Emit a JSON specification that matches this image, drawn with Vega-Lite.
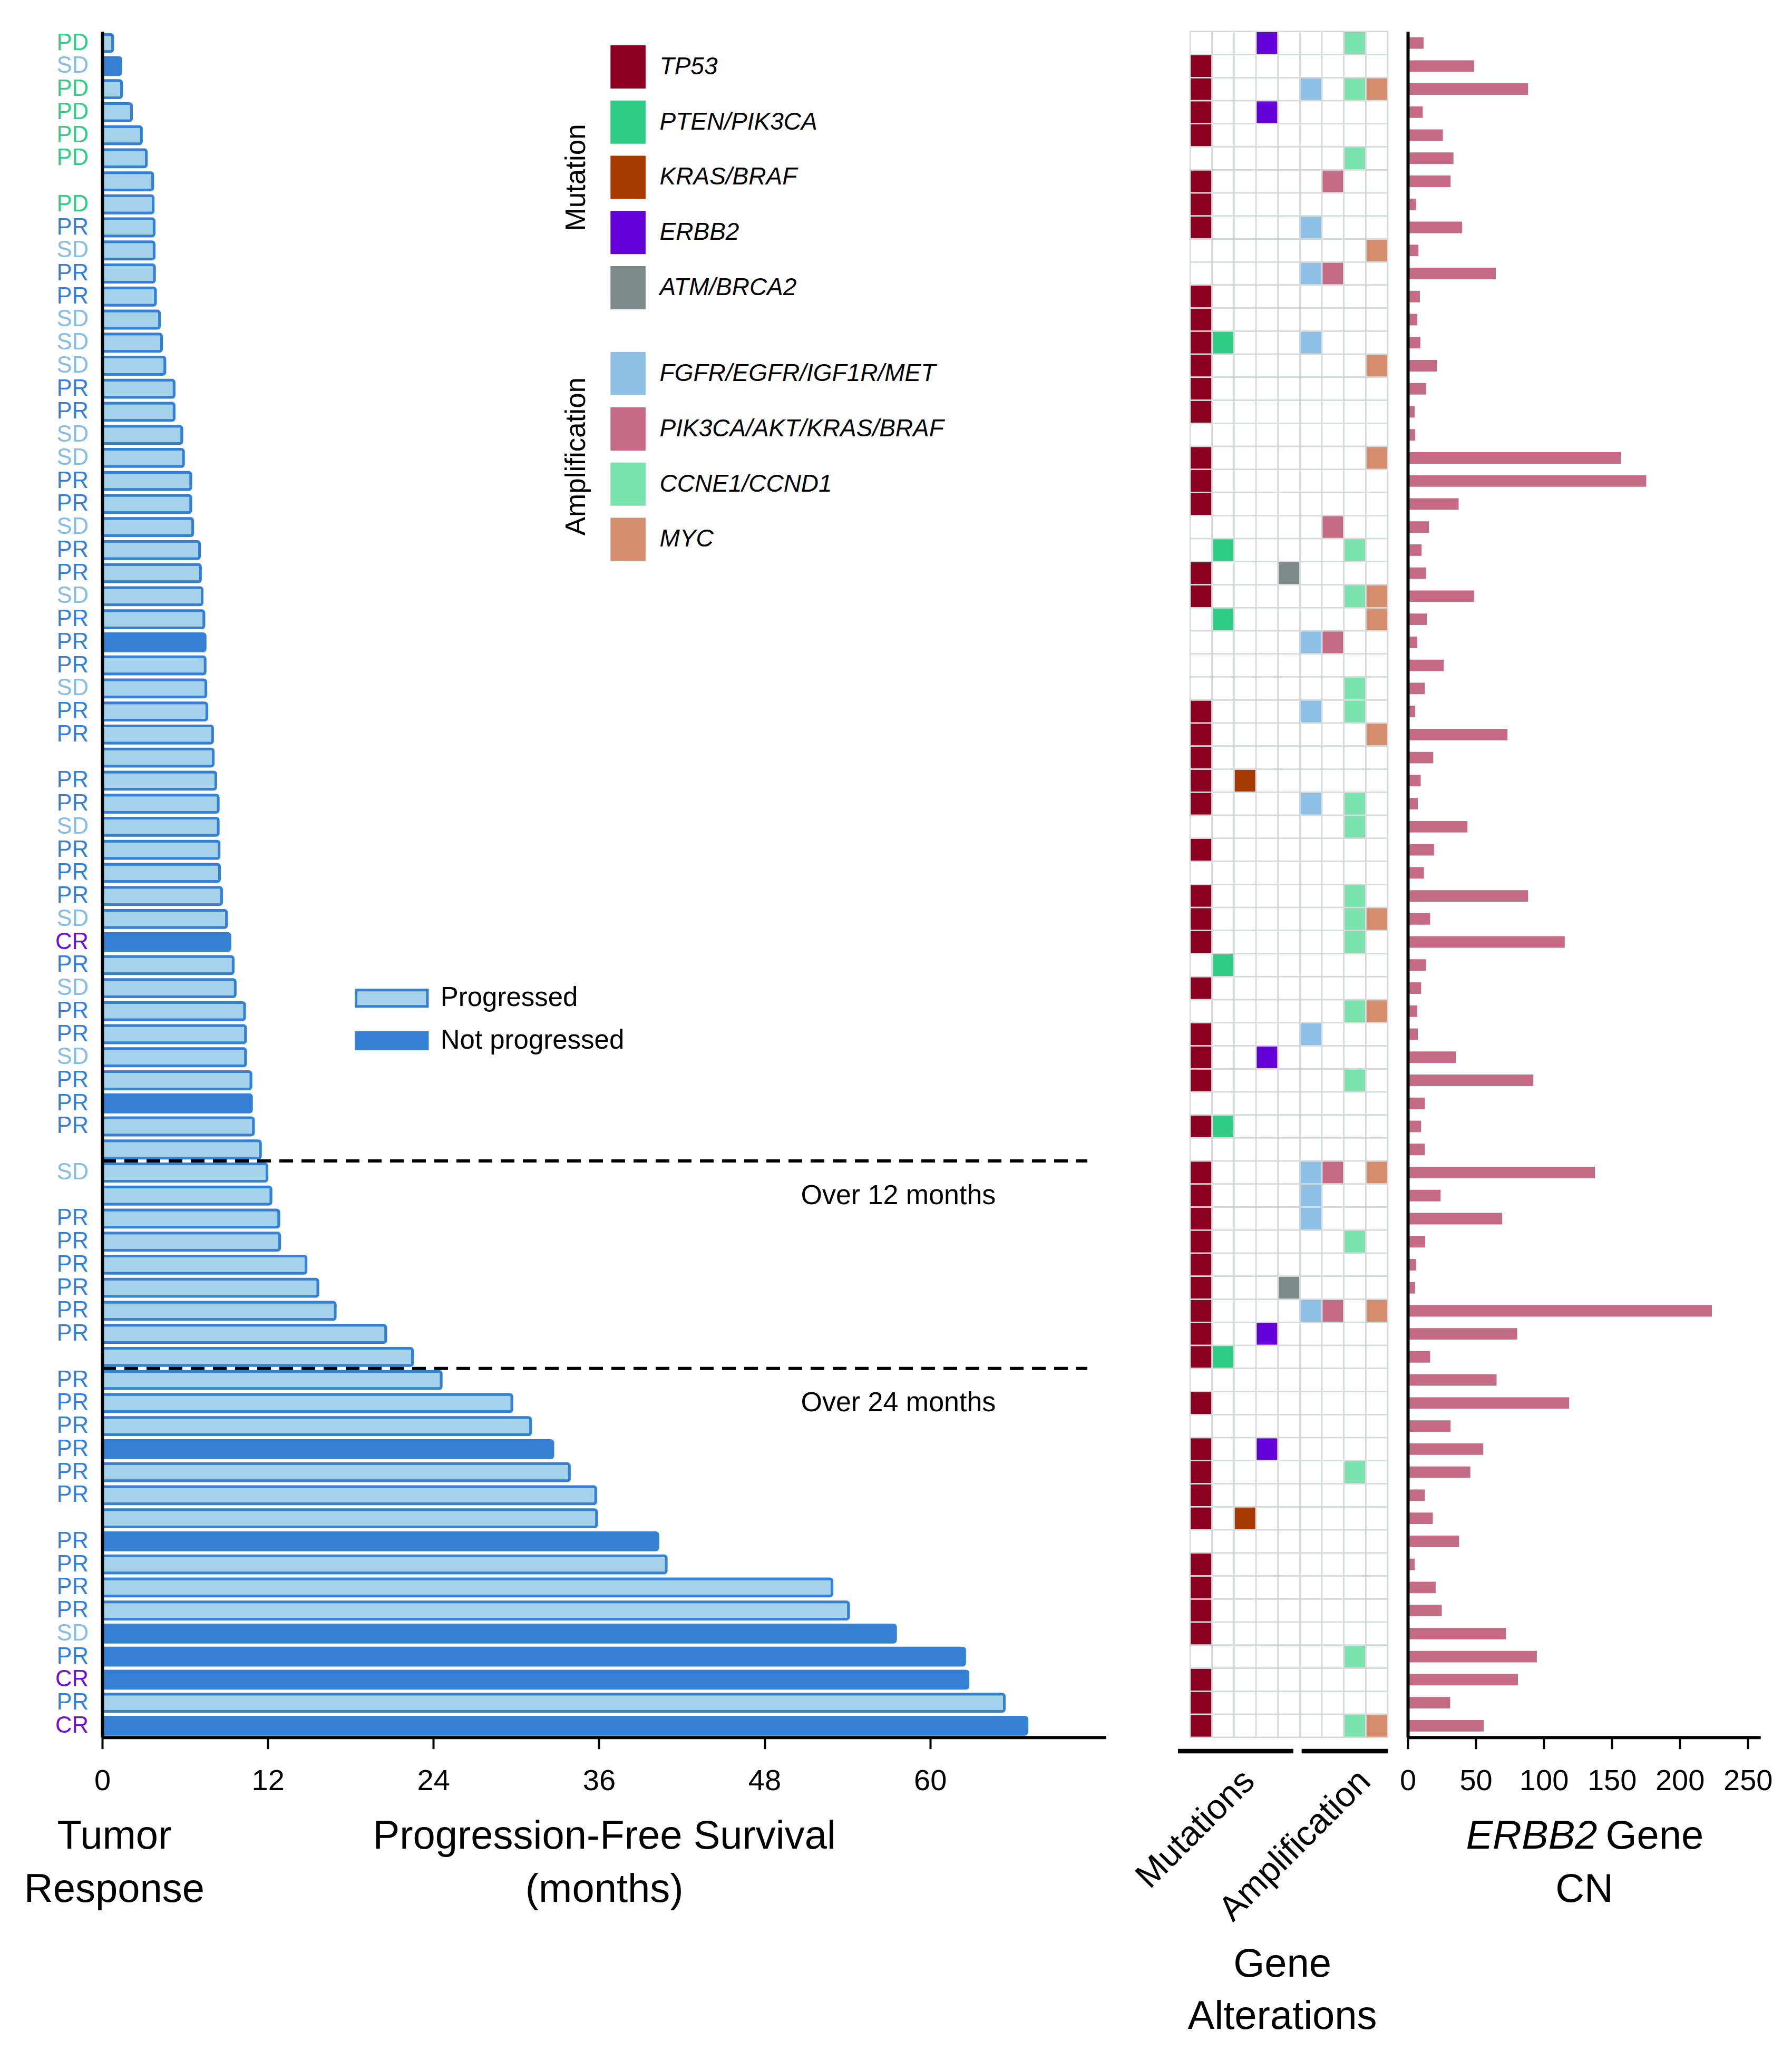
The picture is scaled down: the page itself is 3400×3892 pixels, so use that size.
{
  "$schema": "https://vega.github.io/schema/vega-lite/v6.json",
  "background": "white",
  "padding": {"left": 45, "top": 57.7, "right": 10, "bottom": 10},
  "autosize": {"type": "pad"},
  "datasets": {
    "patients": [
      {"key":"01 PD","pfs":0.76,"status":"Progressed","cn":11.6,"TP53":0,"PTEN/PIK3CA":0,"KRAS/BRAF":0,"ERBB2":1,"ATM/BRCA2":0,"FGFR/EGFR/IGF1R/MET":0,"PIK3CA/AKT/KRAS/BRAF":0,"CCNE1/CCND1":1,"MYC":0},
      {"key":"02 SD","pfs":1.35,"status":"Not progressed","cn":48.7,"TP53":1,"PTEN/PIK3CA":0,"KRAS/BRAF":0,"ERBB2":0,"ATM/BRCA2":0,"FGFR/EGFR/IGF1R/MET":0,"PIK3CA/AKT/KRAS/BRAF":0,"CCNE1/CCND1":0,"MYC":0},
      {"key":"03 PD","pfs":1.4,"status":"Progressed","cn":88.4,"TP53":1,"PTEN/PIK3CA":0,"KRAS/BRAF":0,"ERBB2":0,"ATM/BRCA2":0,"FGFR/EGFR/IGF1R/MET":1,"PIK3CA/AKT/KRAS/BRAF":0,"CCNE1/CCND1":1,"MYC":1},
      {"key":"04 PD","pfs":2.12,"status":"Progressed","cn":11,"TP53":1,"PTEN/PIK3CA":0,"KRAS/BRAF":0,"ERBB2":1,"ATM/BRCA2":0,"FGFR/EGFR/IGF1R/MET":0,"PIK3CA/AKT/KRAS/BRAF":0,"CCNE1/CCND1":0,"MYC":0},
      {"key":"05 PD","pfs":2.84,"status":"Progressed","cn":25.8,"TP53":1,"PTEN/PIK3CA":0,"KRAS/BRAF":0,"ERBB2":0,"ATM/BRCA2":0,"FGFR/EGFR/IGF1R/MET":0,"PIK3CA/AKT/KRAS/BRAF":0,"CCNE1/CCND1":0,"MYC":0},
      {"key":"06 PD","pfs":3.2,"status":"Progressed","cn":33.6,"TP53":0,"PTEN/PIK3CA":0,"KRAS/BRAF":0,"ERBB2":0,"ATM/BRCA2":0,"FGFR/EGFR/IGF1R/MET":0,"PIK3CA/AKT/KRAS/BRAF":0,"CCNE1/CCND1":1,"MYC":0},
      {"key":"07","pfs":3.66,"status":"Progressed","cn":31.5,"TP53":1,"PTEN/PIK3CA":0,"KRAS/BRAF":0,"ERBB2":0,"ATM/BRCA2":0,"FGFR/EGFR/IGF1R/MET":0,"PIK3CA/AKT/KRAS/BRAF":1,"CCNE1/CCND1":0,"MYC":0},
      {"key":"08 PD","pfs":3.69,"status":"Progressed","cn":6,"TP53":1,"PTEN/PIK3CA":0,"KRAS/BRAF":0,"ERBB2":0,"ATM/BRCA2":0,"FGFR/EGFR/IGF1R/MET":0,"PIK3CA/AKT/KRAS/BRAF":0,"CCNE1/CCND1":0,"MYC":0},
      {"key":"09 PR","pfs":3.76,"status":"Progressed","cn":40,"TP53":1,"PTEN/PIK3CA":0,"KRAS/BRAF":0,"ERBB2":0,"ATM/BRCA2":0,"FGFR/EGFR/IGF1R/MET":1,"PIK3CA/AKT/KRAS/BRAF":0,"CCNE1/CCND1":0,"MYC":0},
      {"key":"10 SD","pfs":3.76,"status":"Progressed","cn":7.8,"TP53":0,"PTEN/PIK3CA":0,"KRAS/BRAF":0,"ERBB2":0,"ATM/BRCA2":0,"FGFR/EGFR/IGF1R/MET":0,"PIK3CA/AKT/KRAS/BRAF":0,"CCNE1/CCND1":0,"MYC":1},
      {"key":"11 PR","pfs":3.79,"status":"Progressed","cn":64.7,"TP53":0,"PTEN/PIK3CA":0,"KRAS/BRAF":0,"ERBB2":0,"ATM/BRCA2":0,"FGFR/EGFR/IGF1R/MET":1,"PIK3CA/AKT/KRAS/BRAF":1,"CCNE1/CCND1":0,"MYC":0},
      {"key":"12 PR","pfs":3.86,"status":"Progressed","cn":8.9,"TP53":1,"PTEN/PIK3CA":0,"KRAS/BRAF":0,"ERBB2":0,"ATM/BRCA2":0,"FGFR/EGFR/IGF1R/MET":0,"PIK3CA/AKT/KRAS/BRAF":0,"CCNE1/CCND1":0,"MYC":0},
      {"key":"13 SD","pfs":4.15,"status":"Progressed","cn":6.9,"TP53":1,"PTEN/PIK3CA":0,"KRAS/BRAF":0,"ERBB2":0,"ATM/BRCA2":0,"FGFR/EGFR/IGF1R/MET":0,"PIK3CA/AKT/KRAS/BRAF":0,"CCNE1/CCND1":0,"MYC":0},
      {"key":"14 SD","pfs":4.3,"status":"Progressed","cn":9.2,"TP53":1,"PTEN/PIK3CA":1,"KRAS/BRAF":0,"ERBB2":0,"ATM/BRCA2":0,"FGFR/EGFR/IGF1R/MET":1,"PIK3CA/AKT/KRAS/BRAF":0,"CCNE1/CCND1":0,"MYC":0},
      {"key":"15 SD","pfs":4.54,"status":"Progressed","cn":21.4,"TP53":1,"PTEN/PIK3CA":0,"KRAS/BRAF":0,"ERBB2":0,"ATM/BRCA2":0,"FGFR/EGFR/IGF1R/MET":0,"PIK3CA/AKT/KRAS/BRAF":0,"CCNE1/CCND1":0,"MYC":1},
      {"key":"16 PR","pfs":5.21,"status":"Progressed","cn":13.6,"TP53":1,"PTEN/PIK3CA":0,"KRAS/BRAF":0,"ERBB2":0,"ATM/BRCA2":0,"FGFR/EGFR/IGF1R/MET":0,"PIK3CA/AKT/KRAS/BRAF":0,"CCNE1/CCND1":0,"MYC":0},
      {"key":"17 PR","pfs":5.21,"status":"Progressed","cn":5.1,"TP53":1,"PTEN/PIK3CA":0,"KRAS/BRAF":0,"ERBB2":0,"ATM/BRCA2":0,"FGFR/EGFR/IGF1R/MET":0,"PIK3CA/AKT/KRAS/BRAF":0,"CCNE1/CCND1":0,"MYC":0},
      {"key":"18 SD","pfs":5.77,"status":"Progressed","cn":5.4,"TP53":0,"PTEN/PIK3CA":0,"KRAS/BRAF":0,"ERBB2":0,"ATM/BRCA2":0,"FGFR/EGFR/IGF1R/MET":0,"PIK3CA/AKT/KRAS/BRAF":0,"CCNE1/CCND1":0,"MYC":0},
      {"key":"19 SD","pfs":5.89,"status":"Progressed","cn":156.6,"TP53":1,"PTEN/PIK3CA":0,"KRAS/BRAF":0,"ERBB2":0,"ATM/BRCA2":0,"FGFR/EGFR/IGF1R/MET":0,"PIK3CA/AKT/KRAS/BRAF":0,"CCNE1/CCND1":0,"MYC":1},
      {"key":"20 PR","pfs":6.42,"status":"Progressed","cn":175.3,"TP53":1,"PTEN/PIK3CA":0,"KRAS/BRAF":0,"ERBB2":0,"ATM/BRCA2":0,"FGFR/EGFR/IGF1R/MET":0,"PIK3CA/AKT/KRAS/BRAF":0,"CCNE1/CCND1":0,"MYC":0},
      {"key":"21 PR","pfs":6.42,"status":"Progressed","cn":37.4,"TP53":1,"PTEN/PIK3CA":0,"KRAS/BRAF":0,"ERBB2":0,"ATM/BRCA2":0,"FGFR/EGFR/IGF1R/MET":0,"PIK3CA/AKT/KRAS/BRAF":0,"CCNE1/CCND1":0,"MYC":0},
      {"key":"22 SD","pfs":6.56,"status":"Progressed","cn":15.5,"TP53":0,"PTEN/PIK3CA":0,"KRAS/BRAF":0,"ERBB2":0,"ATM/BRCA2":0,"FGFR/EGFR/IGF1R/MET":0,"PIK3CA/AKT/KRAS/BRAF":1,"CCNE1/CCND1":0,"MYC":0},
      {"key":"23 PR","pfs":7.05,"status":"Progressed","cn":10.1,"TP53":0,"PTEN/PIK3CA":1,"KRAS/BRAF":0,"ERBB2":0,"ATM/BRCA2":0,"FGFR/EGFR/IGF1R/MET":0,"PIK3CA/AKT/KRAS/BRAF":0,"CCNE1/CCND1":1,"MYC":0},
      {"key":"24 PR","pfs":7.12,"status":"Progressed","cn":13.4,"TP53":1,"PTEN/PIK3CA":0,"KRAS/BRAF":0,"ERBB2":0,"ATM/BRCA2":1,"FGFR/EGFR/IGF1R/MET":0,"PIK3CA/AKT/KRAS/BRAF":0,"CCNE1/CCND1":0,"MYC":0},
      {"key":"25 SD","pfs":7.24,"status":"Progressed","cn":48.7,"TP53":1,"PTEN/PIK3CA":0,"KRAS/BRAF":0,"ERBB2":0,"ATM/BRCA2":0,"FGFR/EGFR/IGF1R/MET":0,"PIK3CA/AKT/KRAS/BRAF":0,"CCNE1/CCND1":1,"MYC":1},
      {"key":"26 PR","pfs":7.37,"status":"Progressed","cn":14,"TP53":0,"PTEN/PIK3CA":1,"KRAS/BRAF":0,"ERBB2":0,"ATM/BRCA2":0,"FGFR/EGFR/IGF1R/MET":0,"PIK3CA/AKT/KRAS/BRAF":0,"CCNE1/CCND1":0,"MYC":1},
      {"key":"27 PR","pfs":7.46,"status":"Not progressed","cn":6.9,"TP53":0,"PTEN/PIK3CA":0,"KRAS/BRAF":0,"ERBB2":0,"ATM/BRCA2":0,"FGFR/EGFR/IGF1R/MET":1,"PIK3CA/AKT/KRAS/BRAF":1,"CCNE1/CCND1":0,"MYC":0},
      {"key":"28 PR","pfs":7.46,"status":"Progressed","cn":26.4,"TP53":0,"PTEN/PIK3CA":0,"KRAS/BRAF":0,"ERBB2":0,"ATM/BRCA2":0,"FGFR/EGFR/IGF1R/MET":0,"PIK3CA/AKT/KRAS/BRAF":0,"CCNE1/CCND1":0,"MYC":0},
      {"key":"29 SD","pfs":7.51,"status":"Progressed","cn":12.5,"TP53":0,"PTEN/PIK3CA":0,"KRAS/BRAF":0,"ERBB2":0,"ATM/BRCA2":0,"FGFR/EGFR/IGF1R/MET":0,"PIK3CA/AKT/KRAS/BRAF":0,"CCNE1/CCND1":1,"MYC":0},
      {"key":"30 PR","pfs":7.58,"status":"Progressed","cn":5.4,"TP53":1,"PTEN/PIK3CA":0,"KRAS/BRAF":0,"ERBB2":0,"ATM/BRCA2":0,"FGFR/EGFR/IGF1R/MET":1,"PIK3CA/AKT/KRAS/BRAF":0,"CCNE1/CCND1":1,"MYC":0},
      {"key":"31 PR","pfs":8.0,"status":"Progressed","cn":73.3,"TP53":1,"PTEN/PIK3CA":0,"KRAS/BRAF":0,"ERBB2":0,"ATM/BRCA2":0,"FGFR/EGFR/IGF1R/MET":0,"PIK3CA/AKT/KRAS/BRAF":0,"CCNE1/CCND1":0,"MYC":1},
      {"key":"32","pfs":8.04,"status":"Progressed","cn":18.7,"TP53":1,"PTEN/PIK3CA":0,"KRAS/BRAF":0,"ERBB2":0,"ATM/BRCA2":0,"FGFR/EGFR/IGF1R/MET":0,"PIK3CA/AKT/KRAS/BRAF":0,"CCNE1/CCND1":0,"MYC":0},
      {"key":"33 PR","pfs":8.23,"status":"Progressed","cn":9.5,"TP53":1,"PTEN/PIK3CA":0,"KRAS/BRAF":1,"ERBB2":0,"ATM/BRCA2":0,"FGFR/EGFR/IGF1R/MET":0,"PIK3CA/AKT/KRAS/BRAF":0,"CCNE1/CCND1":0,"MYC":0},
      {"key":"34 PR","pfs":8.41,"status":"Progressed","cn":7.4,"TP53":1,"PTEN/PIK3CA":0,"KRAS/BRAF":0,"ERBB2":0,"ATM/BRCA2":0,"FGFR/EGFR/IGF1R/MET":1,"PIK3CA/AKT/KRAS/BRAF":0,"CCNE1/CCND1":1,"MYC":0},
      {"key":"35 SD","pfs":8.41,"status":"Progressed","cn":43.9,"TP53":0,"PTEN/PIK3CA":0,"KRAS/BRAF":0,"ERBB2":0,"ATM/BRCA2":0,"FGFR/EGFR/IGF1R/MET":0,"PIK3CA/AKT/KRAS/BRAF":0,"CCNE1/CCND1":1,"MYC":0},
      {"key":"36 PR","pfs":8.47,"status":"Progressed","cn":19.3,"TP53":1,"PTEN/PIK3CA":0,"KRAS/BRAF":0,"ERBB2":0,"ATM/BRCA2":0,"FGFR/EGFR/IGF1R/MET":0,"PIK3CA/AKT/KRAS/BRAF":0,"CCNE1/CCND1":0,"MYC":0},
      {"key":"37 PR","pfs":8.5,"status":"Progressed","cn":11.9,"TP53":0,"PTEN/PIK3CA":0,"KRAS/BRAF":0,"ERBB2":0,"ATM/BRCA2":0,"FGFR/EGFR/IGF1R/MET":0,"PIK3CA/AKT/KRAS/BRAF":0,"CCNE1/CCND1":0,"MYC":0},
      {"key":"38 PR","pfs":8.65,"status":"Progressed","cn":88.4,"TP53":1,"PTEN/PIK3CA":0,"KRAS/BRAF":0,"ERBB2":0,"ATM/BRCA2":0,"FGFR/EGFR/IGF1R/MET":0,"PIK3CA/AKT/KRAS/BRAF":0,"CCNE1/CCND1":1,"MYC":0},
      {"key":"39 SD","pfs":9.01,"status":"Progressed","cn":16.4,"TP53":1,"PTEN/PIK3CA":0,"KRAS/BRAF":0,"ERBB2":0,"ATM/BRCA2":0,"FGFR/EGFR/IGF1R/MET":0,"PIK3CA/AKT/KRAS/BRAF":0,"CCNE1/CCND1":1,"MYC":1},
      {"key":"40 CR","pfs":9.25,"status":"Not progressed","cn":115.4,"TP53":1,"PTEN/PIK3CA":0,"KRAS/BRAF":0,"ERBB2":0,"ATM/BRCA2":0,"FGFR/EGFR/IGF1R/MET":0,"PIK3CA/AKT/KRAS/BRAF":0,"CCNE1/CCND1":1,"MYC":0},
      {"key":"41 PR","pfs":9.49,"status":"Progressed","cn":13.4,"TP53":0,"PTEN/PIK3CA":1,"KRAS/BRAF":0,"ERBB2":0,"ATM/BRCA2":0,"FGFR/EGFR/IGF1R/MET":0,"PIK3CA/AKT/KRAS/BRAF":0,"CCNE1/CCND1":0,"MYC":0},
      {"key":"42 SD","pfs":9.64,"status":"Progressed","cn":9.8,"TP53":1,"PTEN/PIK3CA":0,"KRAS/BRAF":0,"ERBB2":0,"ATM/BRCA2":0,"FGFR/EGFR/IGF1R/MET":0,"PIK3CA/AKT/KRAS/BRAF":0,"CCNE1/CCND1":0,"MYC":0},
      {"key":"43 PR","pfs":10.32,"status":"Progressed","cn":6.9,"TP53":0,"PTEN/PIK3CA":0,"KRAS/BRAF":0,"ERBB2":0,"ATM/BRCA2":0,"FGFR/EGFR/IGF1R/MET":0,"PIK3CA/AKT/KRAS/BRAF":0,"CCNE1/CCND1":1,"MYC":1},
      {"key":"44 PR","pfs":10.39,"status":"Progressed","cn":7.4,"TP53":1,"PTEN/PIK3CA":0,"KRAS/BRAF":0,"ERBB2":0,"ATM/BRCA2":0,"FGFR/EGFR/IGF1R/MET":1,"PIK3CA/AKT/KRAS/BRAF":0,"CCNE1/CCND1":0,"MYC":0},
      {"key":"45 SD","pfs":10.39,"status":"Progressed","cn":35.3,"TP53":1,"PTEN/PIK3CA":0,"KRAS/BRAF":0,"ERBB2":1,"ATM/BRCA2":0,"FGFR/EGFR/IGF1R/MET":0,"PIK3CA/AKT/KRAS/BRAF":0,"CCNE1/CCND1":0,"MYC":0},
      {"key":"46 PR","pfs":10.78,"status":"Progressed","cn":92.3,"TP53":1,"PTEN/PIK3CA":0,"KRAS/BRAF":0,"ERBB2":0,"ATM/BRCA2":0,"FGFR/EGFR/IGF1R/MET":0,"PIK3CA/AKT/KRAS/BRAF":0,"CCNE1/CCND1":1,"MYC":0},
      {"key":"47 PR","pfs":10.82,"status":"Not progressed","cn":12.5,"TP53":0,"PTEN/PIK3CA":0,"KRAS/BRAF":0,"ERBB2":0,"ATM/BRCA2":0,"FGFR/EGFR/IGF1R/MET":0,"PIK3CA/AKT/KRAS/BRAF":0,"CCNE1/CCND1":0,"MYC":0},
      {"key":"48 PR","pfs":10.96,"status":"Progressed","cn":9.8,"TP53":1,"PTEN/PIK3CA":1,"KRAS/BRAF":0,"ERBB2":0,"ATM/BRCA2":0,"FGFR/EGFR/IGF1R/MET":0,"PIK3CA/AKT/KRAS/BRAF":0,"CCNE1/CCND1":0,"MYC":0},
      {"key":"49","pfs":11.47,"status":"Progressed","cn":12.5,"TP53":0,"PTEN/PIK3CA":0,"KRAS/BRAF":0,"ERBB2":0,"ATM/BRCA2":0,"FGFR/EGFR/IGF1R/MET":0,"PIK3CA/AKT/KRAS/BRAF":0,"CCNE1/CCND1":0,"MYC":0},
      {"key":"50 SD","pfs":11.94,"status":"Progressed","cn":137.6,"TP53":1,"PTEN/PIK3CA":0,"KRAS/BRAF":0,"ERBB2":0,"ATM/BRCA2":0,"FGFR/EGFR/IGF1R/MET":1,"PIK3CA/AKT/KRAS/BRAF":1,"CCNE1/CCND1":0,"MYC":1},
      {"key":"51","pfs":12.23,"status":"Progressed","cn":24.1,"TP53":1,"PTEN/PIK3CA":0,"KRAS/BRAF":0,"ERBB2":0,"ATM/BRCA2":0,"FGFR/EGFR/IGF1R/MET":1,"PIK3CA/AKT/KRAS/BRAF":0,"CCNE1/CCND1":0,"MYC":0},
      {"key":"52 PR","pfs":12.8,"status":"Progressed","cn":69.4,"TP53":1,"PTEN/PIK3CA":0,"KRAS/BRAF":0,"ERBB2":0,"ATM/BRCA2":0,"FGFR/EGFR/IGF1R/MET":1,"PIK3CA/AKT/KRAS/BRAF":0,"CCNE1/CCND1":0,"MYC":0},
      {"key":"53 PR","pfs":12.86,"status":"Progressed","cn":12.8,"TP53":1,"PTEN/PIK3CA":0,"KRAS/BRAF":0,"ERBB2":0,"ATM/BRCA2":0,"FGFR/EGFR/IGF1R/MET":0,"PIK3CA/AKT/KRAS/BRAF":0,"CCNE1/CCND1":1,"MYC":0},
      {"key":"54 PR","pfs":14.77,"status":"Progressed","cn":6,"TP53":1,"PTEN/PIK3CA":0,"KRAS/BRAF":0,"ERBB2":0,"ATM/BRCA2":0,"FGFR/EGFR/IGF1R/MET":0,"PIK3CA/AKT/KRAS/BRAF":0,"CCNE1/CCND1":0,"MYC":0},
      {"key":"55 PR","pfs":15.63,"status":"Progressed","cn":5.4,"TP53":1,"PTEN/PIK3CA":0,"KRAS/BRAF":0,"ERBB2":0,"ATM/BRCA2":1,"FGFR/EGFR/IGF1R/MET":0,"PIK3CA/AKT/KRAS/BRAF":0,"CCNE1/CCND1":0,"MYC":0},
      {"key":"56 PR","pfs":16.89,"status":"Progressed","cn":223.6,"TP53":1,"PTEN/PIK3CA":0,"KRAS/BRAF":0,"ERBB2":0,"ATM/BRCA2":0,"FGFR/EGFR/IGF1R/MET":1,"PIK3CA/AKT/KRAS/BRAF":1,"CCNE1/CCND1":0,"MYC":1},
      {"key":"57 PR","pfs":20.55,"status":"Progressed","cn":80.4,"TP53":1,"PTEN/PIK3CA":0,"KRAS/BRAF":0,"ERBB2":1,"ATM/BRCA2":0,"FGFR/EGFR/IGF1R/MET":0,"PIK3CA/AKT/KRAS/BRAF":0,"CCNE1/CCND1":0,"MYC":0},
      {"key":"58","pfs":22.49,"status":"Progressed","cn":16.4,"TP53":1,"PTEN/PIK3CA":1,"KRAS/BRAF":0,"ERBB2":0,"ATM/BRCA2":0,"FGFR/EGFR/IGF1R/MET":0,"PIK3CA/AKT/KRAS/BRAF":0,"CCNE1/CCND1":0,"MYC":0},
      {"key":"59 PR","pfs":24.57,"status":"Progressed","cn":65.3,"TP53":0,"PTEN/PIK3CA":0,"KRAS/BRAF":0,"ERBB2":0,"ATM/BRCA2":0,"FGFR/EGFR/IGF1R/MET":0,"PIK3CA/AKT/KRAS/BRAF":0,"CCNE1/CCND1":0,"MYC":0},
      {"key":"60 PR","pfs":29.69,"status":"Progressed","cn":118.6,"TP53":1,"PTEN/PIK3CA":0,"KRAS/BRAF":0,"ERBB2":0,"ATM/BRCA2":0,"FGFR/EGFR/IGF1R/MET":0,"PIK3CA/AKT/KRAS/BRAF":0,"CCNE1/CCND1":0,"MYC":0},
      {"key":"61 PR","pfs":31.05,"status":"Progressed","cn":31.5,"TP53":0,"PTEN/PIK3CA":0,"KRAS/BRAF":0,"ERBB2":0,"ATM/BRCA2":0,"FGFR/EGFR/IGF1R/MET":0,"PIK3CA/AKT/KRAS/BRAF":0,"CCNE1/CCND1":0,"MYC":0},
      {"key":"62 PR","pfs":32.66,"status":"Not progressed","cn":55.5,"TP53":1,"PTEN/PIK3CA":0,"KRAS/BRAF":0,"ERBB2":1,"ATM/BRCA2":0,"FGFR/EGFR/IGF1R/MET":0,"PIK3CA/AKT/KRAS/BRAF":0,"CCNE1/CCND1":0,"MYC":0},
      {"key":"63 PR","pfs":33.86,"status":"Progressed","cn":46,"TP53":1,"PTEN/PIK3CA":0,"KRAS/BRAF":0,"ERBB2":0,"ATM/BRCA2":0,"FGFR/EGFR/IGF1R/MET":0,"PIK3CA/AKT/KRAS/BRAF":0,"CCNE1/CCND1":1,"MYC":0},
      {"key":"64 PR","pfs":35.77,"status":"Progressed","cn":12.5,"TP53":1,"PTEN/PIK3CA":0,"KRAS/BRAF":0,"ERBB2":0,"ATM/BRCA2":0,"FGFR/EGFR/IGF1R/MET":0,"PIK3CA/AKT/KRAS/BRAF":0,"CCNE1/CCND1":0,"MYC":0},
      {"key":"65","pfs":35.83,"status":"Progressed","cn":18.4,"TP53":1,"PTEN/PIK3CA":0,"KRAS/BRAF":1,"ERBB2":0,"ATM/BRCA2":0,"FGFR/EGFR/IGF1R/MET":0,"PIK3CA/AKT/KRAS/BRAF":0,"CCNE1/CCND1":0,"MYC":0},
      {"key":"66 PR","pfs":40.27,"status":"Not progressed","cn":37.7,"TP53":0,"PTEN/PIK3CA":0,"KRAS/BRAF":0,"ERBB2":0,"ATM/BRCA2":0,"FGFR/EGFR/IGF1R/MET":0,"PIK3CA/AKT/KRAS/BRAF":0,"CCNE1/CCND1":0,"MYC":0},
      {"key":"67 PR","pfs":40.88,"status":"Progressed","cn":5.1,"TP53":1,"PTEN/PIK3CA":0,"KRAS/BRAF":0,"ERBB2":0,"ATM/BRCA2":0,"FGFR/EGFR/IGF1R/MET":0,"PIK3CA/AKT/KRAS/BRAF":0,"CCNE1/CCND1":0,"MYC":0},
      {"key":"68 PR","pfs":52.89,"status":"Progressed","cn":20.5,"TP53":1,"PTEN/PIK3CA":0,"KRAS/BRAF":0,"ERBB2":0,"ATM/BRCA2":0,"FGFR/EGFR/IGF1R/MET":0,"PIK3CA/AKT/KRAS/BRAF":0,"CCNE1/CCND1":0,"MYC":0},
      {"key":"69 PR","pfs":54.09,"status":"Progressed","cn":25,"TP53":1,"PTEN/PIK3CA":0,"KRAS/BRAF":0,"ERBB2":0,"ATM/BRCA2":0,"FGFR/EGFR/IGF1R/MET":0,"PIK3CA/AKT/KRAS/BRAF":0,"CCNE1/CCND1":0,"MYC":0},
      {"key":"70 SD","pfs":57.5,"status":"Not progressed","cn":72.1,"TP53":1,"PTEN/PIK3CA":0,"KRAS/BRAF":0,"ERBB2":0,"ATM/BRCA2":0,"FGFR/EGFR/IGF1R/MET":0,"PIK3CA/AKT/KRAS/BRAF":0,"CCNE1/CCND1":0,"MYC":0},
      {"key":"71 PR","pfs":62.51,"status":"Not progressed","cn":94.9,"TP53":0,"PTEN/PIK3CA":0,"KRAS/BRAF":0,"ERBB2":0,"ATM/BRCA2":0,"FGFR/EGFR/IGF1R/MET":0,"PIK3CA/AKT/KRAS/BRAF":0,"CCNE1/CCND1":1,"MYC":0},
      {"key":"72 CR","pfs":62.75,"status":"Not progressed","cn":81,"TP53":1,"PTEN/PIK3CA":0,"KRAS/BRAF":0,"ERBB2":0,"ATM/BRCA2":0,"FGFR/EGFR/IGF1R/MET":0,"PIK3CA/AKT/KRAS/BRAF":0,"CCNE1/CCND1":0,"MYC":0},
      {"key":"73 PR","pfs":65.38,"status":"Progressed","cn":31.2,"TP53":1,"PTEN/PIK3CA":0,"KRAS/BRAF":0,"ERBB2":0,"ATM/BRCA2":0,"FGFR/EGFR/IGF1R/MET":0,"PIK3CA/AKT/KRAS/BRAF":0,"CCNE1/CCND1":0,"MYC":0},
      {"key":"74 CR","pfs":67.02,"status":"Not progressed","cn":55.8,"TP53":1,"PTEN/PIK3CA":0,"KRAS/BRAF":0,"ERBB2":0,"ATM/BRCA2":0,"FGFR/EGFR/IGF1R/MET":0,"PIK3CA/AKT/KRAS/BRAF":0,"CCNE1/CCND1":1,"MYC":1}
    ],
    "thresholds": [{"key": "50 SD", "label": "12 months"}, {"key": "59 PR", "label": "24 months"}],
    "notes": [{"note": "Over 12 months", "pfs": 57.7, "key": "51"}, {"note": "Over 24 months", "pfs": 57.7, "key": "60 PR"}],
    "groups": [{"group": "Mutations", "from": "TP53", "to": "ATM/BRCA2"}, {"group": "Amplification", "from": "FGFR/EGFR/IGF1R/MET", "to": "MYC"}]
  },
  "spacing": 38,
  "bounds": "flush",
  "resolve": {"scale": {"color": "independent", "fill": "independent"}},
  "hconcat": [
    {
      "width": 1904.4,
      "height": 3237,
      "encoding": {
        "y": {
          "field": "key", "type": "nominal", "sort": "ascending",
          "scale": {"type": "band", "paddingInner": 0.25, "paddingOuter": 0.125},
          "axis": {
            "title": ["Tumor", "Response"], "titleAngle": 0, "titleAlign": "center", "titleBaseline": "alphabetic",
            "titleX": 22.4, "titleY": 3448.2, "titleFontSize": 76, "titleLineHeight": 101,
            "ticks": false, "domainColor": "black", "domainWidth": 6, "zindex": 1,
            "labelExpr": "slice(datum.value, 3)", "labelFontSize": 43.5, "labelPadding": 26.6,
            "labelColor": {"condition": [
              {"test": "indexof(datum.value, 'PD') > 0", "value": "#2ecc85"},
              {"test": "indexof(datum.value, 'SD') > 0", "value": "#85bde6"},
              {"test": "indexof(datum.value, 'CR') > 0", "value": "#6a10d8"}
            ], "value": "#3380d6"}
          }
        }
      },
      "layer": [
        {
          "data": {"name": "patients"},
          "mark": {"type": "bar", "stroke": "#3580d5", "strokeWidth": 5, "cornerRadius": 4},
          "encoding": {
            "x": {
              "field": "pfs", "type": "quantitative",
              "scale": {"domain": [0, 72.75], "nice": false, "zero": true},
              "axis": {
                "values": [0, 12, 24, 36, 48, 60],
                "title": ["Progression-Free Survival", "(months)"], "titleFontSize": 76, "titleLineHeight": 101,
                "titleBaseline": "alphabetic", "titleY": 211,
                "labelFontSize": 56, "labelBaseline": "alphabetic", "labelPadding": 78,
                "tickSize": 22, "tickWidth": 4, "domainWidth": 6, "zindex": 1
              }
            },
            "color": {
              "field": "status", "type": "nominal",
              "scale": {"domain": ["Progressed", "Not progressed"], "range": ["#a4d2ea", "#3580d5"]},
              "legend": {
                "title": null, "orient": "none", "legendX": 523.7, "legendY": 1809, "direction": "vertical",
                "symbolType": "M-4.371,-1H4.371V1H-4.371Z", "symbolSize": 961,
                "symbolStrokeColor": "#3580d5", "symbolStrokeWidth": 5,
                "labelFontSize": 51, "labelOffset": 67, "rowPadding": 28.5, "padding": 0, "labelLimit": 1000
              }
            }
          }
        },
        {
          "data": {"name": "thresholds"},
          "mark": {"type": "rule", "color": "black", "strokeWidth": 6, "strokeDash": [26, 16]},
          "encoding": {
            "y": {
              "field": "key", "type": "nominal", "sort": "ascending", "bandPosition": -0.1667,
              "scale": {"type": "band", "paddingInner": 0.25, "paddingOuter": 0.125}
            },
            "x": {"datum": 0, "type": "quantitative", "scale": {"domain": [0, 72.75], "nice": false}},
            "x2": {"datum": 71.4}
          }
        },
        {
          "data": {"name": "notes"},
          "mark": {"type": "text", "fontSize": 52, "align": "center", "baseline": "middle", "color": "black"},
          "encoding": {
            "x": {"field": "pfs", "type": "quantitative", "scale": {"domain": [0, 72.75], "nice": false}},
            "text": {"field": "note"}
          }
        }
      ]
    },
    {
      "width": 82.4,
      "height": 3237,
      "data": {"values": [{"blank": ""}]},
      "mark": {"type": "text"},
      "encoding": {"text": {"field": "blank"}}
    },
    {
      "width": 375,
      "height": 3237,
      "resolve": {"scale": {"y": "independent"}},
      "layer": [
        {
          "data": {"name": "patients"},
          "transform": [{"fold": ["TP53", "PTEN/PIK3CA", "KRAS/BRAF", "ERBB2", "ATM/BRCA2", "FGFR/EGFR/IGF1R/MET", "PIK3CA/AKT/KRAS/BRAF", "CCNE1/CCND1", "MYC"], "as": ["gene", "flag"]}],
          "encoding": {
            "x": {
              "field": "gene", "type": "nominal", "sort": null,
              "scale": {"domain": ["TP53", "PTEN/PIK3CA", "KRAS/BRAF", "ERBB2", "ATM/BRCA2", "FGFR/EGFR/IGF1R/MET", "PIK3CA/AKT/KRAS/BRAF", "CCNE1/CCND1", "MYC"], "paddingInner": 0, "paddingOuter": 0},
              "axis": {
                "title": ["Gene", "Alterations"], "labels": false, "ticks": false, "domain": false,
                "titleFontSize": 76, "titleLineHeight": 99, "titleBaseline": "alphabetic", "titleX": 174.6, "titleY": 453.5
              }
            },
            "y": {"field": "key", "type": "nominal", "sort": "ascending", "scale": {"type": "band", "paddingInner": 0, "paddingOuter": 0}, "axis": null}
          },
          "layer": [
            {
              "transform": [{"filter": "datum.flag == 1"}, {"filter": {"field": "gene", "oneOf": ["TP53", "PTEN/PIK3CA", "KRAS/BRAF", "ERBB2", "ATM/BRCA2"]}}],
              "mark": {"type": "rect"},
              "encoding": {
                "color": {
                  "field": "gene", "type": "nominal",
                  "scale": {"domain": ["TP53", "PTEN/PIK3CA", "KRAS/BRAF", "ERBB2", "ATM/BRCA2"], "range": ["#8b0021", "#2ecc85", "#a63a00", "#6400d8", "#7e8b8b"]},
                  "legend": {
                    "title": "Mutation", "orient": "none", "legendX": -1190.4, "legendY": 26.2, "direction": "vertical",
                    "titleOrient": "left", "titleAnchor": "middle", "titleAlign": "center", "titleFontSize": 53, "titlePadding": 3, "titleLimit": 1000,
                    "encode": {"title": {"update": {"angle": {"value": 270}}}},
                    "symbolType": "M-0.812,-1H0.812V1H-0.812Z", "symbolSize": 6724, "symbolStrokeWidth": 0,
                    "labelFontSize": 46, "labelFontStyle": "italic", "labelOffset": 19, "rowPadding": 22.8, "padding": 0, "labelLimit": 2000
                  }
                }
              }
            },
            {
              "transform": [{"filter": "datum.flag == 1"}, {"filter": {"field": "gene", "oneOf": ["FGFR/EGFR/IGF1R/MET", "PIK3CA/AKT/KRAS/BRAF", "CCNE1/CCND1", "MYC"]}}],
              "mark": {"type": "rect"},
              "encoding": {
                "fill": {
                  "field": "gene", "type": "nominal",
                  "scale": {"domain": ["FGFR/EGFR/IGF1R/MET", "PIK3CA/AKT/KRAS/BRAF", "CCNE1/CCND1", "MYC"], "range": ["#8ebfe5", "#c56b85", "#7be4ae", "#d48e6d"]},
                  "legend": {
                    "title": "Amplification", "orient": "none", "legendX": -1190.4, "legendY": 608.4, "direction": "vertical",
                    "titleOrient": "left", "titleAnchor": "middle", "titleAlign": "center", "titleFontSize": 53, "titlePadding": 3, "titleLimit": 1000,
                    "encode": {"title": {"update": {"angle": {"value": 270}}}},
                    "symbolType": "M-0.812,-1H0.812V1H-0.812Z", "symbolSize": 6724, "symbolStrokeWidth": 0,
                    "labelFontSize": 46, "labelFontStyle": "italic", "labelOffset": 19, "rowPadding": 22.8, "padding": 0, "labelLimit": 2000
                  }
                }
              }
            },
            {
              "mark": {"type": "rect", "filled": false, "stroke": "#d6dada", "strokeWidth": 2.5}
            }
          ]
        },
        {
          "data": {"name": "groups"},
          "transform": [{"filter": "datum.group == 'Mutations'"}],
          "mark": {"type": "rule", "color": "black", "strokeWidth": 8.6, "strokeCap": "butt"},
          "encoding": {
            "x": {"field": "from", "type": "nominal", "sort": null, "bandPosition": -0.55,
                  "scale": {"domain": ["TP53", "PTEN/PIK3CA", "KRAS/BRAF", "ERBB2", "ATM/BRCA2", "FGFR/EGFR/IGF1R/MET", "PIK3CA/AKT/KRAS/BRAF", "CCNE1/CCND1", "MYC"], "paddingInner": 0, "paddingOuter": 0}},
            "x2": {"field": "to", "bandPosition": 0.7},
            "y": {"datum": -0.6, "type": "quantitative", "scale": {"domain": [0, 74], "nice": false, "zero": false}, "axis": null}
          }
        },
        {
          "data": {"name": "groups"},
          "transform": [{"filter": "datum.group == 'Amplification'"}],
          "mark": {"type": "rule", "color": "black", "strokeWidth": 8.6, "strokeCap": "butt"},
          "encoding": {
            "x": {"field": "from", "type": "nominal", "sort": null, "bandPosition": 0.08,
                  "scale": {"domain": ["TP53", "PTEN/PIK3CA", "KRAS/BRAF", "ERBB2", "ATM/BRCA2", "FGFR/EGFR/IGF1R/MET", "PIK3CA/AKT/KRAS/BRAF", "CCNE1/CCND1", "MYC"], "paddingInner": 0, "paddingOuter": 0}},
            "x2": {"field": "to", "bandPosition": 1},
            "y": {"datum": -0.6, "type": "quantitative", "scale": {"domain": [0, 74], "nice": false, "zero": false}, "axis": null}
          }
        },
        {
          "data": {"name": "groups"},
          "transform": [{"filter": "datum.group == 'Mutations'"}],
          "mark": {"type": "text", "angle": 315, "align": "right", "baseline": "middle", "fontSize": 66, "color": "black"},
          "encoding": {
            "x": {"field": "from", "type": "nominal", "sort": null, "bandPosition": 2.68,
                  "scale": {"domain": ["TP53", "PTEN/PIK3CA", "KRAS/BRAF", "ERBB2", "ATM/BRCA2", "FGFR/EGFR/IGF1R/MET", "PIK3CA/AKT/KRAS/BRAF", "CCNE1/CCND1", "MYC"], "paddingInner": 0, "paddingOuter": 0}},
            "y": {"datum": -1.67, "type": "quantitative", "scale": {"domain": [0, 74], "nice": false, "zero": false},
                  "axis": {"orient": "left", "title": "ERBB2", "titleFontStyle": "italic", "titleAngle": 0, "titleAlign": "left", "titleBaseline": "alphabetic",
                           "titleX": 522.9, "titleY": 3448.2, "titleFontSize": 76, "domain": false, "labels": false, "ticks": false, "grid": false}},
            "text": {"field": "group"}
          }
        },
        {
          "data": {"name": "groups"},
          "transform": [{"filter": "datum.group == 'Amplification'"}],
          "mark": {"type": "text", "angle": 315, "align": "right", "baseline": "middle", "fontSize": 66, "color": "black"},
          "encoding": {
            "x": {"field": "from", "type": "nominal", "sort": null, "bandPosition": 2.96,
                  "scale": {"domain": ["TP53", "PTEN/PIK3CA", "KRAS/BRAF", "ERBB2", "ATM/BRCA2", "FGFR/EGFR/IGF1R/MET", "PIK3CA/AKT/KRAS/BRAF", "CCNE1/CCND1", "MYC"], "paddingInner": 0, "paddingOuter": 0}},
            "y": {"datum": -1.67, "type": "quantitative", "scale": {"domain": [0, 74], "nice": false, "zero": false}, "axis": null},
            "text": {"field": "group"}
          }
        }
      ]
    },
    {
      "width": 669.2,
      "height": 3237,
      "data": {"name": "patients"},
      "mark": {"type": "bar", "color": "#c56b85"},
      "encoding": {
        "y": {
          "field": "key", "type": "nominal", "sort": "ascending",
          "scale": {"type": "band", "paddingInner": 0.5, "paddingOuter": 0.25},
          "axis": {
            "title": "Gene", "titleAngle": 0, "titleAlign": "left", "titleBaseline": "alphabetic",
            "titleX": 374.9, "titleY": 3448.2, "titleFontSize": 76,
            "labels": false, "ticks": false, "domainColor": "black", "domainWidth": 6, "zindex": 1
          }
        },
        "x": {
          "field": "cn", "type": "quantitative",
          "scale": {"domain": [0, 259.3], "nice": false},
          "axis": {
            "values": [0, 50, 100, 150, 200, 250], "title": "CN", "titleFontSize": 76, "titleBaseline": "alphabetic", "titleY": 312,
            "labelFontSize": 56, "labelBaseline": "alphabetic", "labelPadding": 78,
            "tickSize": 22, "tickWidth": 4, "domainWidth": 6, "zindex": 1
          }
        }
      }
    }
  ],
  "config": {
    "font": "Liberation Sans",
    "view": {"stroke": null},
    "axis": {"grid": false, "labelFont": "Liberation Sans", "titleFont": "Liberation Sans", "titleFontWeight": "normal", "labelColor": "black", "titleColor": "black", "domainColor": "black", "tickColor": "black", "labelFlush": false, "labelOverlap": false},
    "legend": {"labelFont": "Liberation Sans", "titleFont": "Liberation Sans", "titleFontWeight": "normal", "labelColor": "black", "titleColor": "black"},
    "title": {"font": "Liberation Sans"},
    "text": {"font": "Liberation Sans"}
  }
}
